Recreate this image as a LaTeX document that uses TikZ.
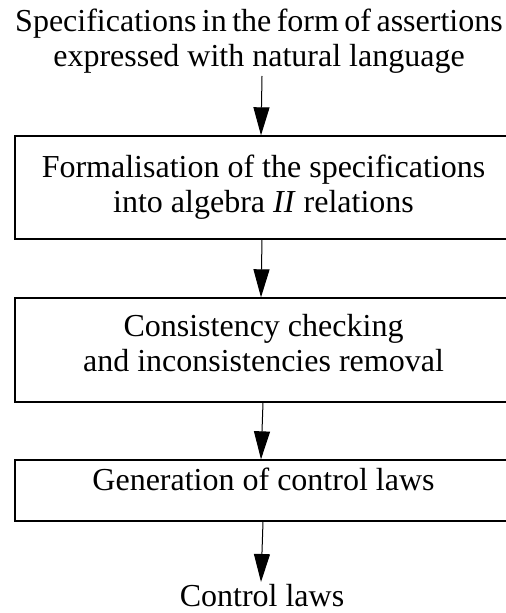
\documentclass[tikz,border=0pt]{standalone}
\usepackage{fontspec}
\setmainfont{Liberation Serif}
\usetikzlibrary{arrows.meta}

\begin{document}
\begin{tikzpicture}[x=0.75pt,y=0.75pt,yscale=-1,xscale=1,
  stagebox/.style={draw, line width=1pt, minimum width=372.75pt, align=center, inner sep=0pt,
    font=\fontsize{24}{26.5}\selectfont},
  plaintext/.style={align=center, inner sep=1.5pt, font=\fontsize{24}{26.5}\selectfont},
  flowarrow/.style={line width=0.75pt, -{Triangle[length=21pt,width=12pt]}}]
\useasboundingbox (0,0) rectangle (506,613);

% Text Node
\node (spec) [plaintext, anchor=south] at (259,76) {\spaceskip=0.17em Specifications in the form of assertions\\expressed with natural language};
%Shape: Rectangle
\node (formal) [stagebox, minimum height=77.25pt] at (263.5,187.5) {Formalisation of the specifications\\into algebra \textit{II} relations};
%Shape: Rectangle
\node (check) [stagebox, minimum height=78pt, text depth=10.5pt] at (263.5,350) {Consistency checking\\and inconsistencies removal};
%Shape: Rectangle
\node (gen) [stagebox, minimum height=45.75pt, text depth=17.25pt] at (263.5,490.5) {Generation of control laws};
% Text Node
\node (laws) [plaintext, anchor=north] at (262,582) {Control laws};

%Straight Lines
\draw [flowarrow] (spec.south -| 262,0) -- (formal.north -| 261,0);
\draw [flowarrow] (formal.south -| 262,0) -- (check.north -| 261,0);
\draw [flowarrow] (check.south -| 263,0) -- (gen.north -| 261,0);
\draw [flowarrow] (gen.south -| 263,0) -- (laws.north -| 261,0);

\end{tikzpicture}
\end{document}
